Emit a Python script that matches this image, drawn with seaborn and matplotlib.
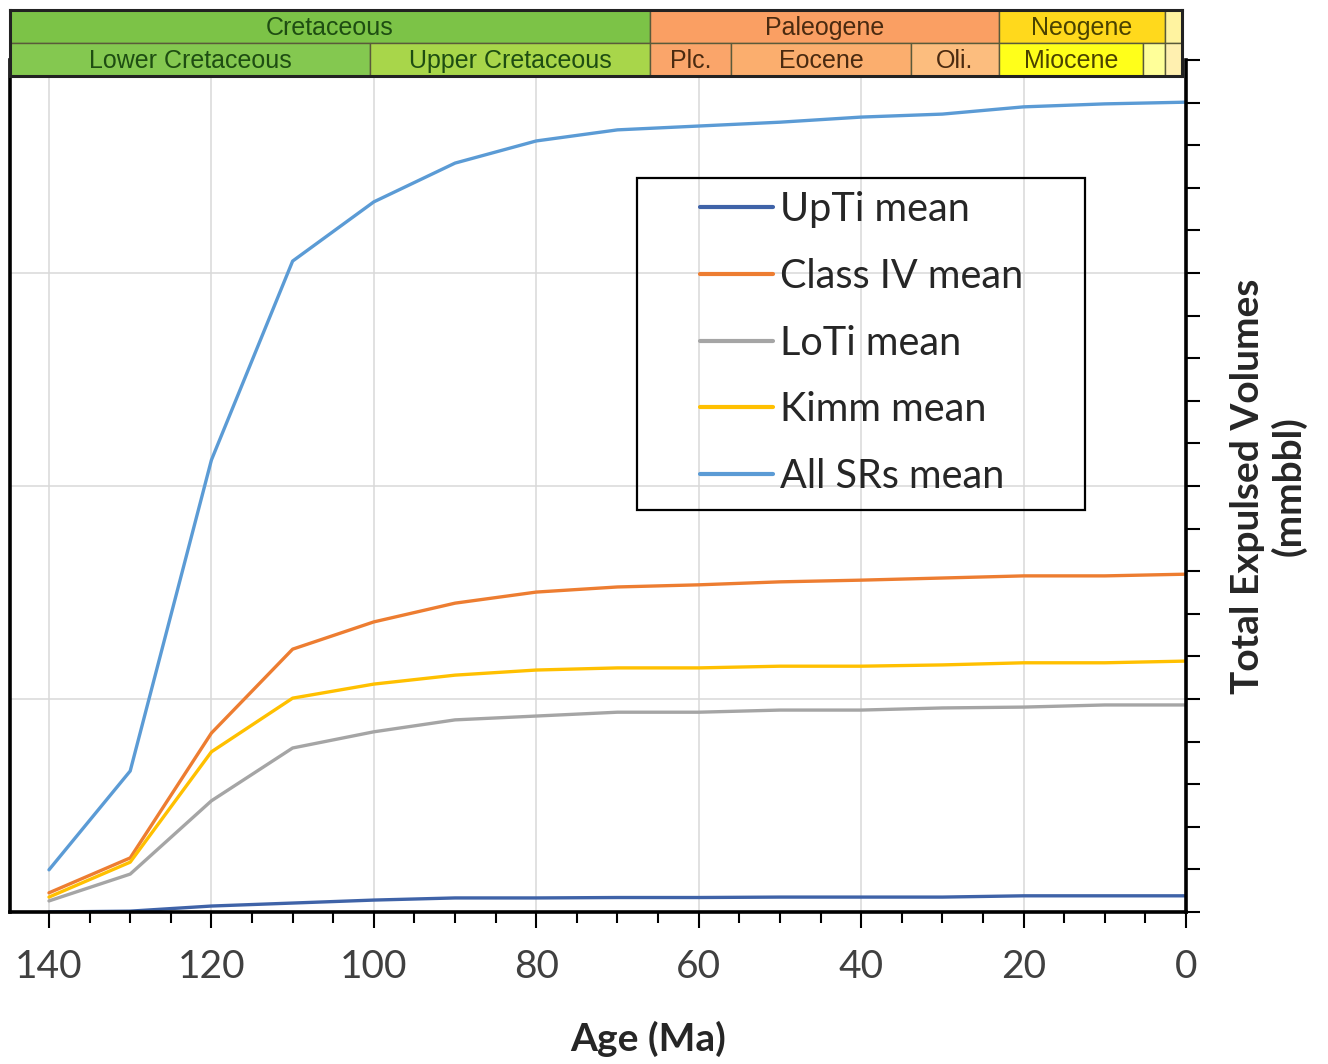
import matplotlib
matplotlib.use("Agg")
import matplotlib.pyplot as plt
from matplotlib.patches import Rectangle
from matplotlib.ticker import MultipleLocator
import pandas as pd
import seaborn as sns

# ages (Ma) where each curve was sampled
ages = [140, 130, 120, 110, 100, 90, 80, 70, 60, 50, 40, 30, 20, 10, 0]

upti = [0, 2, 14, 21, 28, 33, 33, 34, 34, 35, 35, 35, 38, 38, 38]
class_iv = [45, 127, 420, 617, 681, 725, 751, 763, 768, 775, 779, 784, 789, 789, 793]
loti = [26, 89, 261, 385, 423, 451, 460, 469, 469, 474, 474, 479, 481, 486, 486]
kimm = [35, 117, 376, 502, 535, 556, 568, 573, 573, 577, 577, 580, 585, 585, 589]
all_srs = [99, 331, 1061, 1528, 1667, 1758, 1810, 1836, 1845, 1854, 1866, 1873, 1890, 1897, 1901]

series_names = ["UpTi mean", "Class IV mean", "LoTi mean", "Kimm mean", "All SRs mean"]
series_colors = ["#3F63A8", "#ED7D31", "#A5A5A5", "#FFC000", "#5B9BD5"]

# geologic time scale bar (top strip)
periods = ["Cretaceous", "Paleogene", "Neogene", ""]
period_start = [145, 66, 23, 2.6]
period_end = [66, 23, 2.6, 0]
epochs = ["Lower Cretaceous", "Upper Cretaceous", "Plc.", "Eocene", "Oli.", "Miocene", "", ""]
epoch_start = [145, 100.5, 66, 56, 33.9, 23, 5.3, 2.6]
epoch_end = [100.5, 66, 56, 33.9, 23, 5.3, 2.6, 0]

period_colors = ["#7CC347", "#FA9F63", "#FFD91C", "#FFF3A0"]
epoch_colors = ["#84C850", "#A8D64A", "#FAA56A", "#FBAE6E", "#FCBD7E", "#FFFF1A", "#FFFF99", "#FFF0B0"]
period_txt = ["#1E4D12", "#4A2A10", "#4A4200", "#4A4200"]
epoch_txt = ["#1E4D12", "#1E4D12", "#4A2A10", "#4A2A10", "#4A2A10", "#4A4200", "#4A4200", "#4A4200"]

values = [upti, class_iv, loti, kimm, all_srs]
rows = []
for name, vals in zip(series_names, values):
    for a, v in zip(ages, vals):
        rows.append({"Age": a, "Volume": v, "Series": name})
df = pd.DataFrame(rows)

sns.set_style("white")
plt.rcParams["font.family"] = ["Lato", "DejaVu Sans"]

fig = plt.figure(figsize=(13.28, 10.64), dpi=100)
ax = fig.add_axes([10 / 1328, 152 / 1064, 1176 / 1328, 852 / 1064])

sns.lineplot(data=df, x="Age", y="Volume", hue="Series", hue_order=series_names,
             palette=series_colors, linewidth=2.4, ax=ax, sort=False)

ax.set_xlim(144.8, 0)
ax.set_ylim(0, 2000)
ax.xaxis.set_major_locator(MultipleLocator(20))
ax.xaxis.set_minor_locator(MultipleLocator(5))
ax.yaxis.set_major_locator(MultipleLocator(500))
ax.yaxis.set_minor_locator(MultipleLocator(100))
ax.grid(True, which="major", color="#D9D9D9", linewidth=1.1)

ax.yaxis.tick_right()
ax.yaxis.set_label_position("right")
ax.tick_params(axis="y", which="both", right=True, left=False, direction="out",
               length=10, width=1.5, color="black", labelright=False)
ax.tick_params(axis="x", which="major", bottom=True, direction="out", length=11.5,
               width=1.5, color="black", labelsize=28, labelcolor="#404040", pad=15)
ax.tick_params(axis="x", which="minor", bottom=True, direction="out", length=8,
               width=1.5, color="black")

for side in ["left", "bottom", "right"]:
    ax.spines[side].set_visible(True)
    ax.spines[side].set_linewidth(2.6)
    ax.spines[side].set_color("black")
ax.spines["top"].set_visible(False)

ax.set_xlabel("Age (Ma)", fontsize=28, fontweight="bold")
ax.xaxis.set_label_coords(0.5425, -0.128)
ax.set_ylabel("Total Expulsed Volumes\n(mmbbl)", fontsize=28, fontweight="bold",
              labelpad=22, linespacing=1.15)

# legend box
handles, labels = ax.get_legend_handles_labels()
leg = ax.legend(handles, labels, loc="upper left", bbox_to_anchor=(0.587, 0.846),
                frameon=False, fontsize=28.5, handlelength=1.84, handletextpad=0.18,
                labelspacing=0.75, borderpad=0, borderaxespad=0)
for h in leg.get_lines():
    h.set_linewidth(3)
for t in leg.get_texts():
    t.set_color("#262626")
ax.add_patch(Rectangle((0.533, 0.472), 0.381, 0.390, transform=ax.transAxes,
                       fill=False, edgecolor="black", linewidth=1.6, zorder=5))

# time scale strip
tax = fig.add_axes([10 / 1328, 988 / 1064, 1172 / 1328, 66 / 1064])
tax.set_xlim(144.8, 0.5)
tax.set_ylim(0, 2)
tax.barh([1.5] * len(periods), [s - e for s, e in zip(period_start, period_end)],
         left=period_end, height=1, color=period_colors, edgecolor="#5A5A3A", linewidth=1)
tax.barh([0.5] * len(epochs), [s - e for s, e in zip(epoch_start, epoch_end)],
         left=epoch_end, height=1, color=epoch_colors, edgecolor="#5A5A3A", linewidth=1)
for name, s, e, c in zip(periods, period_start, period_end, period_txt):
    if name:
        mid = (min(s, 144.8) + e) / 2
        tax.text(mid, 1.45, name, ha="center", va="center", fontsize=18, color=c,
                 family="Liberation Sans")
for name, s, e, c in zip(epochs, epoch_start, epoch_end, epoch_txt):
    if name:
        mid = (min(s, 144.8) + e) / 2
        tax.text(mid, 0.45, name, ha="center", va="center", fontsize=18, color=c,
                 family="Liberation Sans")
tax.set_xticks([])
tax.set_yticks([])
for side in tax.spines.values():
    side.set_visible(True)
    side.set_linewidth(2.2)
    side.set_color("#222222")

fig.savefig("out.png", dpi=100)
